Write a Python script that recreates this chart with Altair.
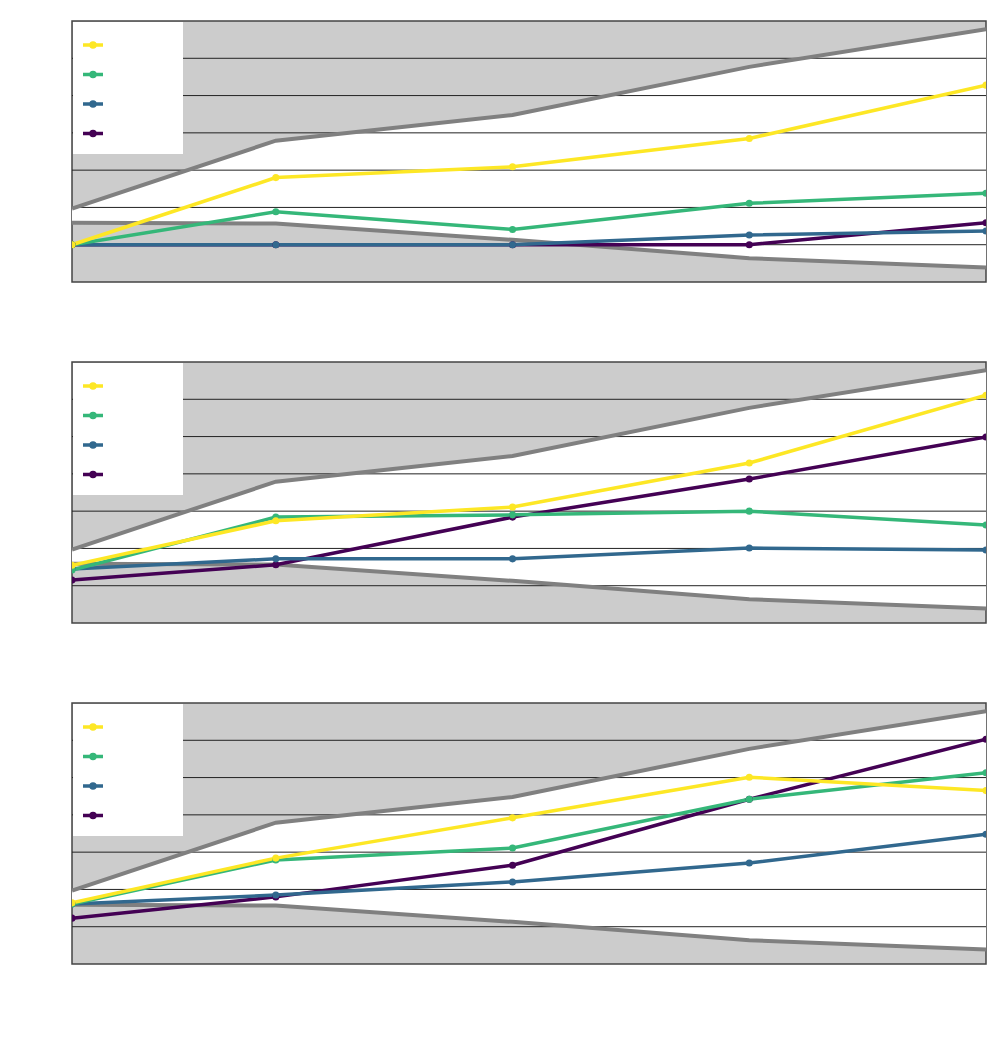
import altair as alt
import pandas as pd

# ---- data ----
x_vals = [0, 2.23, 4.82, 7.41, 10]
series_names = ["Series 1", "Series 2", "Series 3", "Series 4"]
series_colors = ["#fde725", "#35b779", "#31688e", "#440154"]
draw_order = ["Series 4", "Series 3", "Series 2", "Series 1"]

band_upper = [1.97, 3.79, 4.48, 5.77, 6.78]
band_lower = [1.59, 1.57, 1.13, 0.64, 0.39]
grid_values = [1, 2, 3, 4, 5, 6]

p1_s1 = [1.00, 2.80, 3.09, 3.85, 5.28]
p1_s2 = [1.00, 1.885, 1.41, 2.11, 2.38]
p1_s3 = [1.00, 1.00, 1.00, 1.26, 1.37]
p1_s4 = [1.00, 1.00, 1.00, 1.00, 1.59]

p2_s1 = [1.55, 2.74, 3.11, 4.29, 6.11]
p2_s2 = [1.42, 2.84, 2.90, 3.00, 2.63]
p2_s3 = [1.45, 1.72, 1.72, 2.01, 1.96]
p2_s4 = [1.15, 1.56, 2.84, 3.86, 4.99]

p3_s1 = [1.64, 2.84, 3.92, 5.01, 4.65]
p3_s2 = [1.61, 2.79, 3.11, 4.42, 5.13]
p3_s3 = [1.61, 1.85, 2.20, 2.71, 3.48]
p3_s4 = [1.23, 1.80, 2.65, 4.42, 6.03]

panels = [
    {"Series 1": p1_s1, "Series 2": p1_s2, "Series 3": p1_s3, "Series 4": p1_s4},
    {"Series 1": p2_s1, "Series 2": p2_s2, "Series 3": p2_s3, "Series 4": p2_s4},
    {"Series 1": p3_s1, "Series 2": p3_s2, "Series 3": p3_s3, "Series 4": p3_s4},
]

band_df = pd.DataFrame({"x": x_vals, "upper": band_upper, "lower": band_lower})
band_long = pd.concat([
    pd.DataFrame({"x": x_vals, "y": band_upper, "edge": "upper"}),
    pd.DataFrame({"x": x_vals, "y": band_lower, "edge": "lower"}),
])
grid_df = pd.DataFrame({"g": grid_values})

xs = alt.Scale(domain=[0, 10], nice=False, zero=False)
ys = alt.Scale(domain=[0, 7], nice=False, zero=False)

legend_path = "M-1,0H1M0.2,0A0.2,0.2,0,1,1,-0.2,0A0.2,0.2,0,1,1,0.2,0"


def make_panel(series):
    rows = []
    for name in draw_order:
        for xv, yv in zip(x_vals, series[name]):
            rows.append({"x": xv, "y": yv, "series": name})
    df = pd.DataFrame(rows)

    area = alt.Chart(band_df).mark_area(color="white", clip=True).encode(
        x=alt.X("x:Q", scale=xs, axis=None),
        y=alt.Y("upper:Q", scale=ys, axis=None),
        y2="lower:Q",
    )
    grid = alt.Chart(grid_df).mark_rule(color="#222222", strokeWidth=1).encode(
        y=alt.Y("g:Q", scale=ys, axis=None)
    )
    band_lines = alt.Chart(band_long).mark_line(
        color="#808080", strokeWidth=4, clip=True
    ).encode(
        x=alt.X("x:Q", scale=xs, axis=None),
        y=alt.Y("y:Q", scale=ys, axis=None),
        detail="edge:N",
    )
    lines = alt.Chart(df).mark_line(
        strokeWidth=3.5, clip=True,
        point=alt.OverlayMarkDef(filled=True, size=50, clip=True),
    ).encode(
        x=alt.X("x:Q", scale=xs, axis=None),
        y=alt.Y("y:Q", scale=ys, axis=None),
        color=alt.Color(
            "series:N",
            title=None,
            scale=alt.Scale(domain=series_names, range=series_colors),
            legend=alt.Legend(
                orient="none", legendX=1, legendY=1,
                fillColor="white", padding=11,
                symbolType=legend_path, symbolSize=400, symbolStrokeWidth=3.5,
                symbolOffset=-3,
                labelColor="white", labelFontSize=11, labelOffset=26,
                rowPadding=8.5,
            ),
        ),
    )
    return alt.layer(area, grid, band_lines, lines).properties(width=914, height=261)


chart = alt.vconcat(*[make_panel(p) for p in panels], spacing=78).resolve_legend(
    color="independent"
).configure(
    padding={"left": 62, "top": 12, "right": 0, "bottom": 0},
).configure_view(
    fill="#cccccc", stroke="#444444", strokeWidth=1.5
)

chart.save("out.html", embed_options={"renderer": "svg", "actions": False})
